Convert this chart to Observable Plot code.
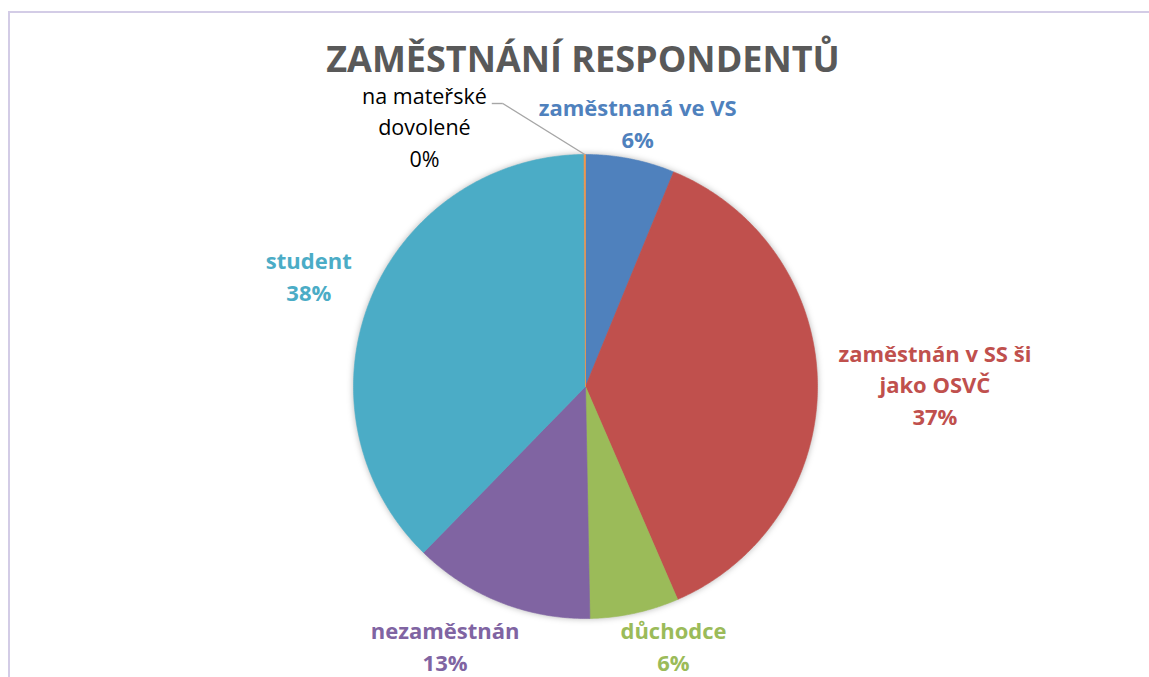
<!DOCTYPE html>
<html><head><meta charset="utf-8">
<script src="https://cdn.jsdelivr.net/npm/d3@7"></script>
<script src="https://cdn.jsdelivr.net/npm/@observablehq/plot@0.6"></script>
<style>
html,body{margin:0;padding:0;background:#fff}
body{width:1149px;height:677px;overflow:hidden;position:relative;font-family:"Open Sans",sans-serif}
#frame{position:absolute;left:8px;top:11px;width:1200px;height:700px;border-left:2px solid #D3CCE6;border-top:2px solid #D3CCE6}
#title{position:absolute;left:8px;top:39px;width:1150px;height:40px;line-height:40px;text-align:center;font-weight:700;font-size:36px;color:#595959;white-space:nowrap}
#chart{position:absolute;left:0;top:80px}
#chart g[aria-label="line"]{filter:drop-shadow(0 0 3px rgba(0,0,0,0.28))}
</style></head>
<body>
<div id="frame"></div>
<div id="title">ZAMĚSTNÁNÍ RESPONDENTŮ</div>
<div id="chart"></div>
<script>
// ---- data ----
const categories = ["zaměstnaná ve VS", "zaměstnán v SS ši jako OSVČ", "důchodce", "nezaměstnán", "student", "na mateřské dovolené"];
const categoryLabels = ["zaměstnaná ve VS", "zaměstnán v SS ši\njako OSVČ", "důchodce", "nezaměstnán", "student", "na mateřské\ndovolené"];
const values = [6.2, 37.3, 6.2, 12.6, 37.6, 0.1];
const colors = ["#4F81BD", "#C0504D", "#9BBB59", "#8064A2", "#4BACC6", "#F79646"];

// ---- layout ----
const W = 1149, H = 597, CX = 585, CY = 306, R = 232;
const FS = 22, LH = 31.5;
const total = d3.sum(values);
const arcs = d3.pie().sort(null).value(d => d)(values);

const ctx = document.createElement("canvas").getContext("2d");
function measure(lines, font) { ctx.font = font; return d3.max(lines, l => ctx.measureText(l).width); }

// slice polygons (unit-radius coordinates, y up)
const slices = [];
arcs.forEach((a, i) => {
  const cat = categories[i];
  slices.push({cat, x: 0, y: 0});
  const n = Math.max(2, Math.ceil((a.endAngle - a.startAngle) / (Math.PI / 360)));
  for (let k = 0; k <= n; k++) {
    const t = a.startAngle + (a.endAngle - a.startAngle) * k / n;
    slices.push({cat, x: Math.sin(t), y: Math.cos(t)});
  }
  slices.push({cat, x: 0, y: 0});
});

// labels (outside end, Excel-like)
const labels = [], smallLabels = [], leaders = [];
arcs.forEach((a, i) => {
  const pct = values[i] / total * 100;
  const text = categoryLabels[i] + "\n" + Math.round(pct) + "%";
  const lines = text.split("\n");
  const mid = (a.startAngle + a.endAngle) / 2;
  const s = Math.sin(mid), c = Math.cos(mid);
  if (pct >= 1) {
    const w = measure(lines, `bold ${FS}px "Open Sans"`);
    const h = lines.length * LH - 10;
    let px, py; // screen px relative to centre (y down)
    if (c < -0.9) {
      // bottom zone: label hangs just below the pie, pushed sideways
      py = R + h / 2;
      px = (R + 8) * s + Math.sign(s || 1) * 0.7 * w / 2;
    } else {
      const gap = 8 + 13 * Math.abs(s);
      const d = Math.min(Math.abs(s) > 1e-6 ? w / 2 / Math.abs(s) : Infinity, Math.abs(c) > 1e-6 ? h / 2 / Math.abs(c) : Infinity);
      const r = R + gap + d;
      px = s * r; py = -c * r;
    }
    labels.push({cat: categories[i], text, x: px / R, y: -py / R});
  } else {
    const w = measure(lines, `21.5px "Open Sans"`);
    const p = {x: s, y: c};
    const e = {x: p.x - 82 / R, y: p.y + 51 / R};
    const e2 = {x: e.x - 11 / R, y: e.y};
    leaders.push({x1: p.x, y1: p.y, x2: e.x, y2: e.y}, {x1: e.x, y1: e.y, x2: e2.x, y2: e2.y});
    smallLabels.push({text, x: e2.x - (5 + w / 2) / R, y: e.y + 22 / R});
  }
});

const chart = Plot.plot({
  width: W, height: H, margin: 0,
  x: {domain: [-1, 1], range: [CX - R, CX + R], axis: null},
  y: {domain: [-1, 1], range: [CY + R, CY - R], axis: null},
  color: {domain: categories, range: colors},
  style: {fontFamily: '"Open Sans", sans-serif', background: "transparent", overflow: "visible"},
  marks: [
    Plot.line(slices, {x: "x", y: "y", z: "cat", fill: "cat", stroke: "cat", strokeWidth: 0.6, curve: "linear"}),
    Plot.link(leaders, {x1: "x1", y1: "y1", x2: "x2", y2: "y2", stroke: "#A6A6A6", strokeWidth: 1.4}),
    Plot.text(labels, {x: "x", y: "y", text: "text", fill: "cat", fontSize: FS, fontWeight: "bold", lineHeight: LH / FS, textAnchor: "middle", lineAnchor: "middle"}),
    Plot.text(smallLabels, {x: "x", y: "y", text: "text", fill: "#000", fontSize: 21.5, lineHeight: LH / 21.5, textAnchor: "middle", lineAnchor: "top"})
  ]
});
document.getElementById("chart").appendChild(chart);
</script>
</body></html>
